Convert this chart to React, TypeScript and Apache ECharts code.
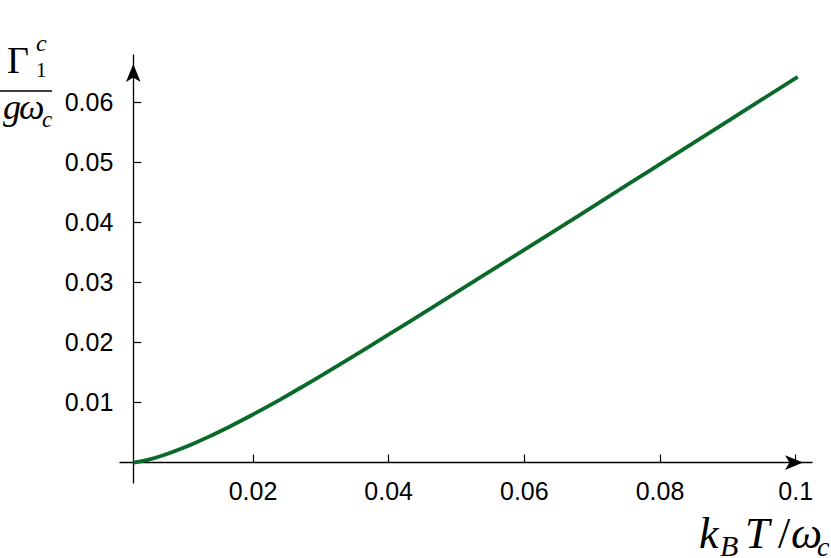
import { useEffect, useRef } from 'react';
import * as echarts from 'echarts';

// k_B T / ω_c  (x) and Γ_1^c / (g ω_c)  (y)
const tempValues = [
  0.0024, 0.0045, 0.0068, 0.0093, 0.0117, 0.0142, 0.0166, 0.0200, 0.0240, 0.0289,
  0.0338, 0.0402, 0.0461, 0.0535, 0.0608, 0.0682, 0.0756, 0.0815, 0.0900, 0.1003,
];
const rateValues = [
  0.0000, 0.00046, 0.00122, 0.00225, 0.00338, 0.00468, 0.0060, 0.0080, 0.01047, 0.01368,
  0.0170, 0.02144, 0.02557, 0.03079, 0.03597, 0.04122, 0.04651, 0.05073, 0.05681, 0.06417,
];
const xTicks = [0.02, 0.04, 0.06, 0.08, 0.1];
const yTicks = [0.01, 0.02, 0.03, 0.04, 0.05, 0.06];

const LINE_COLOR = '#0a6a2a';
const AXIS_COLOR = '#000';
const SERIF = "'Liberation Serif', 'DejaVu Serif', serif";
const SANS = "'Liberation Sans', Arial, sans-serif";

function mathText(text: string, x: number, baseline: number, size: number, italic = true) {
  return {
    type: 'text',
    x,
    y: baseline - 0.34 * size,
    silent: true,
    style: {
      text,
      fill: '#000',
      fontFamily: SERIF,
      fontSize: size,
      fontStyle: italic ? 'italic' : 'normal',
      align: 'left',
      textAlign: 'left',
      verticalAlign: 'middle',
      textVerticalAlign: 'middle',
    },
  };
}

export default function App() {
  const ref = useRef<HTMLDivElement>(null);

  useEffect(() => {
    if (!ref.current) return;
    const chart = echarts.init(ref.current, undefined, { renderer: 'svg' });

    chart.setOption({
      animation: false,
      backgroundColor: '#fff',
      grid: { left: 120, right: 19, top: 55, bottom: 75 },
      xAxis: {
        type: 'value',
        min: 0.0004,
        max: 0.1024,
        axisLine: {
          onZero: true,
          lineStyle: { color: AXIS_COLOR, width: 1.3 },
          symbol: ['none', 'arrow'],
          symbolSize: [11, 18],
          symbolOffset: [0, -9],
        },
        axisTick: {
          inside: true,
          length: 8,
          customValues: xTicks,
          lineStyle: { color: AXIS_COLOR, width: 1.2 },
        },
        axisLabel: {
          customValues: xTicks,
          margin: -5,
          color: '#000',
          fontFamily: SANS,
          fontSize: 25,
        },
        splitLine: { show: false },
      },
      yAxis: {
        type: 'value',
        min: -0.0034,
        max: 0.0678,
        offset: -13.3,
        axisLine: {
          show: true,
          onZero: false,
          lineStyle: { color: AXIS_COLOR, width: 1.3 },
          symbol: ['none', 'arrow'],
          symbolSize: [11, 18],
          symbolOffset: [0, -9],
        },
        axisTick: {
          show: true,
          inside: true,
          length: 8,
          customValues: yTicks,
          lineStyle: { color: AXIS_COLOR, width: 1.2 },
        },
        axisLabel: {
          customValues: yTicks,
          margin: 20,
          color: '#000',
          fontFamily: SANS,
          fontSize: 25,
        },
        splitLine: { show: false },
      },
      series: [
        {
          type: 'line',
          data: tempValues.map((t, i) => [t, rateValues[i]]),
          symbol: 'none',
          smooth: 0.15,
          lineStyle: { color: LINE_COLOR, width: 3.8, join: 'round' },
          clip: false,
        },
      ],
      graphic: [
        // x title: k_B T / ω_c
        mathText('k', 699, 548, 44),
        mathText('B', 720, 556, 30),
        mathText('T', 745, 548, 44),
        mathText('/', 778, 548, 44, false),
        mathText('ω', 791, 548, 44),
        mathText('c', 817, 556, 28),
        // y title: Γ_1^c / (g ω_c)
        mathText('Γ', 7, 73, 38, false),
        mathText('c', 36, 51, 24),
        mathText('1', 36, 77, 21, false),
        {
          type: 'line',
          silent: true,
          shape: { x1: 0, y1: 91, x2: 52, y2: 91 },
          style: { stroke: '#000', lineWidth: 1.5 },
        },
        mathText('g', 3, 119, 36),
        mathText('ω', 19, 119, 36),
        mathText('c', 42, 127, 23),
      ],
    });

    return () => chart.dispose();
  }, []);

  return (
    <div
      ref={ref}
      style={{ position: 'fixed', left: 0, top: 0, width: 831, height: 558 }}
    />
  );
}
